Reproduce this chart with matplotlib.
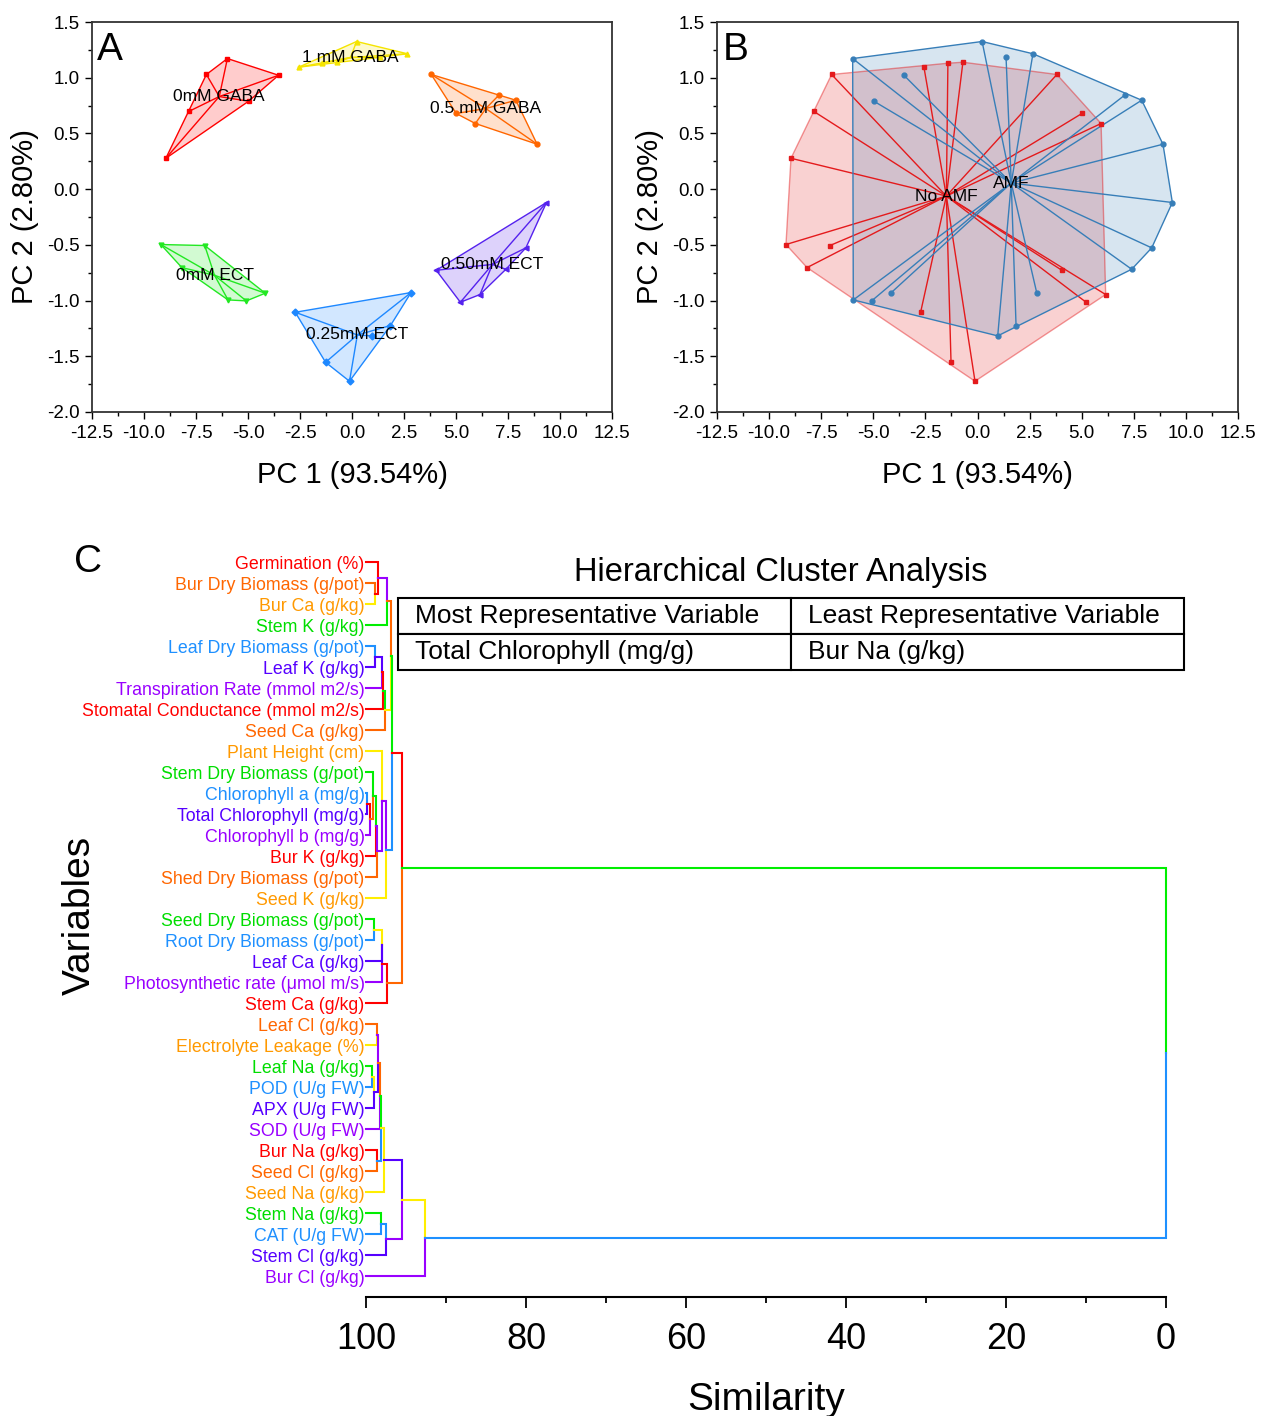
import numpy as np
import matplotlib
matplotlib.use("Agg")
import matplotlib.pyplot as plt
from matplotlib.ticker import MultipleLocator, FormatStrFormatter

plt.rcParams['font.family'] = ['Liberation Sans', 'DejaVu Sans']
plt.rcParams['axes.unicode_minus'] = False

# ---------- PCA scores: 3 No AMF + 3 AMF samples per treatment ----------
treatments = ["0mM GABA", "0.5 mM GABA", "1 mM GABA", "0mM ECT", "0.25mM ECT", "0.50mM ECT"]
pc1_no_amf = [[-7.00, -7.85, -8.95], [3.81, 5.01, 5.93], [-2.57, -1.42, -0.70],
              [-9.19, -7.08, -8.18], [-2.73, -1.27, -0.12], [4.05, 5.21, 6.15]]
pc2_no_amf = [[1.029, 0.697, 0.277], [1.029, 0.679, 0.589], [1.094, 1.130, 1.139],
              [-0.497, -0.506, -0.704], [-1.105, -1.554, -1.724], [-0.728, -1.015, -0.946]]
pc1_amf = [[-5.99, -3.53, -4.97], [7.06, 7.88, 8.90], [0.22, 1.37, 2.66],
           [-5.96, -5.08, -4.17], [2.84, 1.85, 0.97], [9.35, 8.36, 7.40]]
pc2_amf = [[1.172, 1.022, 0.789], [0.843, 0.798, 0.403], [1.325, 1.184, 1.215],
           [-0.994, -1.003, -0.934], [-0.928, -1.224, -1.317], [-0.120, -0.527, -0.719]]
amf_groups = ["No AMF", "AMF"]
pc1_label = "PC 1 (93.54%)"
pc2_label = "PC 2 (2.80%)"

# ---------- Hierarchical clustering of variables ----------
variables = [
    "Germination (%)", "Bur Dry Biomass (g/pot)", "Bur Ca (g/kg)", "Stem K (g/kg)",
    "Leaf Dry Biomass (g/pot)", "Leaf K (g/kg)", "Transpiration Rate (mmol m2/s)",
    "Stomatal Conductance (mmol m2/s)", "Seed Ca (g/kg)", "Plant Height (cm)",
    "Stem Dry Biomass (g/pot)", "Chlorophyll a (mg/g)", "Total Chlorophyll (mg/g)",
    "Chlorophyll b (mg/g)", "Bur K (g/kg)", "Shed Dry Biomass (g/pot)", "Seed K (g/kg)",
    "Seed Dry Biomass (g/pot)", "Root Dry Biomass (g/pot)", "Leaf Ca (g/kg)",
    "Photosynthetic rate (\u03bcmol m/s)", "Stem Ca (g/kg)", "Leaf Cl (g/kg)",
    "Electrolyte Leakage (%)", "Leaf Na (g/kg)", "POD (U/g FW)", "APX (U/g FW)",
    "SOD (U/g FW)", "Bur Na (g/kg)", "Seed Cl (g/kg)", "Seed Na (g/kg)",
    "Stem Na (g/kg)", "CAT (U/g FW)", "Stem Cl (g/kg)", "Bur Cl (g/kg)",
]
# merges: node id = len(variables) + merge index
merge_left = [1, 0, 36, 4, 38, 39, 40, 37, 11, 43, 10, 45, 46, 9, 48, 42, 17,
              51, 52, 53, 50, 22, 24, 57, 56, 59, 28, 60, 62, 31, 64, 63, 66, 55]
merge_right = [2, 35, 3, 5, 6, 7, 8, 41, 12, 13, 44, 14, 15, 47, 16, 49, 18,
               19, 20, 21, 54, 23, 25, 26, 58, 27, 29, 61, 30, 32, 33, 65, 34, 67]
merge_similarity = [98.88, 98.46, 97.41, 98.88, 98.04, 97.84, 97.62, 96.91, 99.84, 99.50,
                    99.09, 98.75, 98.62, 97.96, 97.50, 96.71, 98.96, 98.06, 97.94, 97.41,
                    95.46, 98.66, 99.21, 98.96, 98.56, 98.25, 98.66, 98.12, 97.71, 98.12,
                    97.54, 95.54, 92.62, 0.0]
table_rows = [["Most Representative Variable", "Least Representative Variable"],
              ["Total Chlorophyll (mg/g)", "Bur Na (g/kg)"]]

# ---------- Styles ----------
group_colors = ["#FF0000", "#FF6600", "#F5E400", "#22E822", "#1E88FF", "#5522EE"]
group_markers = ["s", "o", "^", "v", "D", "<"]
amf_colors = ["#E41A1C", "#377EB8"]
amf_markers = ["s", "o"]
rainbow = ["#FF0000", "#FF6600", "#FFEE00", "#00EE00", "#1E90FF", "#5500FF", "#9900FF"]
rainbow_text = ["#FF0000", "#FF6600", "#FF9900", "#00DD00", "#1E90FF", "#5500FF", "#9900FF"]
R, O, Y, G, B, I, V = rainbow
link_colors = [R, V, O, I, R, G, Y, G, R, O, G, V, V, V, B, R, Y,
               I, R, O, G, V, Y, I, O, G, B, Y, I, B, V, Y, B, None]


def convex_hull(pts):
    pts = sorted(set(map(tuple, pts)))
    def cross(o, a, b):
        return (a[0] - o[0]) * (b[1] - o[1]) - (a[1] - o[1]) * (b[0] - o[0])
    lower, upper = [], []
    for p in pts:
        while len(lower) >= 2 and cross(lower[-2], lower[-1], p) <= 0:
            lower.pop()
        lower.append(p)
    for p in reversed(pts):
        while len(upper) >= 2 and cross(upper[-2], upper[-1], p) <= 0:
            upper.pop()
        upper.append(p)
    return np.array(lower[:-1] + upper[:-1])


def draw_group(ax, x, y, color, marker, label, edge_alpha=1.0):
    x = np.asarray(x, dtype=float)
    y = np.asarray(y, dtype=float)
    cx, cy = x.mean(), y.mean()
    hull = convex_hull(np.column_stack([x, y]))
    ax.fill(hull[:, 0], hull[:, 1], color=color, alpha=0.2, lw=0, zorder=1)
    ax.plot(np.append(hull[:, 0], hull[0, 0]), np.append(hull[:, 1], hull[0, 1]),
            color=color, lw=1.0, alpha=edge_alpha, zorder=2)
    for xi, yi in zip(x, y):
        ax.plot([cx, xi], [cy, yi], color=color, lw=1.0, zorder=2)
    ax.plot(x, y, ls="none", marker=marker, color=color, ms=3.5, zorder=3)
    ax.text(cx, cy, label, ha="center", va="center", fontsize=12.5, zorder=4)


def style_pca_axes(ax, letter):
    ax.set_xlim(-12.5, 12.5)
    ax.set_ylim(-2.0, 1.5)
    ax.xaxis.set_major_locator(MultipleLocator(2.5))
    ax.xaxis.set_minor_locator(MultipleLocator(1.25))
    ax.yaxis.set_major_locator(MultipleLocator(0.5))
    ax.yaxis.set_minor_locator(MultipleLocator(0.25))
    ax.xaxis.set_major_formatter(FormatStrFormatter("%.1f"))
    ax.yaxis.set_major_formatter(FormatStrFormatter("%.1f"))
    ax.tick_params(which="major", direction="out", length=5, width=1, labelsize=13.5, pad=4)
    ax.tick_params(which="minor", direction="out", length=3, width=1)
    for sp in ax.spines.values():
        sp.set_linewidth(1.3)
        sp.set_color("#333333")
    ax.set_xlabel(pc1_label, fontsize=21, labelpad=14)
    ax.set_ylabel(pc2_label, fontsize=21, labelpad=6)
    ax.text(0.035, 0.928, letter, transform=ax.transAxes, ha="center", va="center", fontsize=28)


W, H = 1261, 1416
fig = plt.figure(figsize=(W / 100, H / 100), dpi=100)

# ---------- Panel A: by treatment ----------
ax_a = fig.add_axes([92 / W, 1 - 412 / H, 520 / W, 390 / H])
for k, name in enumerate(treatments):
    xs = pc1_no_amf[k] + pc1_amf[k]
    ys = pc2_no_amf[k] + pc2_amf[k]
    draw_group(ax_a, xs, ys, group_colors[k], group_markers[k], name)
style_pca_axes(ax_a, "A")

# ---------- Panel B: by AMF inoculation ----------
ax_b = fig.add_axes([717 / W, 1 - 412 / H, 521 / W, 390 / H])
amf_x = [sum(pc1_no_amf, []), sum(pc1_amf, [])]
amf_y = [sum(pc2_no_amf, []), sum(pc2_amf, [])]
for k, name in enumerate(amf_groups):
    draw_group(ax_b, amf_x[k], amf_y[k], amf_colors[k], amf_markers[k], name,
               edge_alpha=0.45 if k == 0 else 1.0)
style_pca_axes(ax_b, "B")

# ---------- Panel C: dendrogram ----------
ax_c = fig.add_axes([366 / W, 1 - 1297 / H, 800 / W, 752 / H])
n = len(variables)
node_y = list(range(n))
node_h = [100.0] * n
node_col = [rainbow[i % 7] for i in range(n)]
for i, (l, r, s) in enumerate(zip(merge_left, merge_right, merge_similarity)):
    py = (node_y[l] + node_y[r]) / 2
    for c in (l, r):
        ax_c.plot([node_h[c], s, s], [node_y[c], node_y[c], py], color=node_col[c],
                  lw=1.5, solid_capstyle="projecting", solid_joinstyle="miter", clip_on=False)
    node_y.append(py)
    node_h.append(s)
    node_col.append(link_colors[i])

ax_c.set_xlim(100, 0)
ax_c.set_ylim(35.0, -0.81)
ax_c.set_yticks(range(n))
ax_c.set_yticklabels(variables, fontsize=12.8)
for i, lbl in enumerate(ax_c.get_yticklabels()):
    lbl.set_color(rainbow_text[i % 7])
ax_c.tick_params(axis="y", length=0, pad=1)
ax_c.xaxis.set_major_locator(MultipleLocator(20))
ax_c.xaxis.set_minor_locator(MultipleLocator(10))
ax_c.tick_params(axis="x", which="major", direction="out", length=8, width=1.3, labelsize=26, pad=10)
ax_c.tick_params(axis="x", which="minor", direction="out", length=4, width=1.3)
for side in ("top", "right", "left"):
    ax_c.spines[side].set_visible(False)
ax_c.spines["bottom"].set_linewidth(1.5)
ax_c.set_xlabel("Similarity", fontsize=28, labelpad=18)

tbl = ax_c.table(cellText=table_rows, cellLoc="left",
                 bbox=[(398 - 366) / 800, (1297 - 670) / 752, 786 / 800, 72 / 752])
tbl.auto_set_font_size(False)
tbl.set_fontsize(19)
for cell in tbl.get_celld().values():
    cell.set_linewidth(1.5)
    cell.PAD = 0.043

fig.text(781 / W, 1 - 572 / H, "Hierarchical Cluster Analysis", ha="center", va="center", fontsize=23.5)
fig.text(88 / W, 1 - 562 / H, "C", ha="center", va="center", fontsize=28)
fig.text(80 / W, 1 - 915 / H, "Variables", ha="center", va="center", rotation=90, fontsize=28)

fig.savefig("out.png", dpi=100)
